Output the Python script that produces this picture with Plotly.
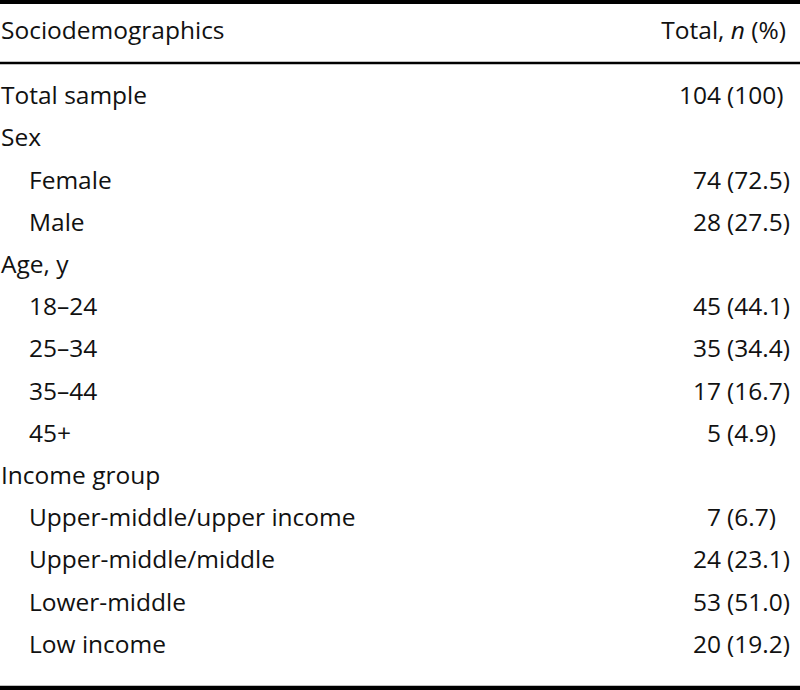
import plotly.graph_objects as go

labels = ["Total sample", "Sex", "Female", "Male", "Age, y", "18–24", "25–34",
          "35–44", "45+", "Income group", "Upper-middle/upper income",
          "Upper-middle/middle", "Lower-middle", "Low income"]
indent = [0, 0, 1, 1, 0, 1, 1, 1, 1, 0, 1, 1, 1, 1]
counts = [104, None, 74, 28, None, 45, 35, 17, 5, None, 7, 24, 53, 20]
percents = ["100", None, "72.5", "27.5", None, "44.1", "34.4", "16.7", "4.9",
            None, "6.7", "23.1", "51.0", "19.2"]
header_left = "Sociodemographics"
header_right = "Total, <i>n</i> (%)"

FONT = dict(family="Open Sans", size=24.5, color="#111111")
ROW0, ROWH = 98, 42.2
HEADER_Y = 33
X_LEFT, X_INDENT = 1, 29
X_NUM, X_PAREN = 721, 727
X_RIGHT = 786

ys = [ROW0 + ROWH * i for i in range(len(labels))]
xs = [X_INDENT if ind else X_LEFT for ind in indent]

fig = go.Figure()
fig.add_trace(go.Scatter(x=xs, y=ys, text=labels, mode="text",
                         textposition="middle right", textfont=FONT,
                         hoverinfo="skip"))
num_y = [y for y, c in zip(ys, counts) if c is not None]
fig.add_trace(go.Scatter(x=[X_NUM] * len(num_y), y=num_y,
                         text=[str(c) for c in counts if c is not None],
                         mode="text", textposition="middle left", textfont=FONT,
                         hoverinfo="skip"))
fig.add_trace(go.Scatter(x=[X_PAREN] * len(num_y), y=num_y,
                         text=["(" + p + ")" for p in percents if p is not None],
                         mode="text", textposition="middle right", textfont=FONT,
                         hoverinfo="skip"))
fig.add_trace(go.Scatter(x=[X_LEFT], y=[HEADER_Y], text=[header_left], mode="text",
                         textposition="middle right", textfont=FONT, hoverinfo="skip"))
fig.add_trace(go.Scatter(x=[X_RIGHT], y=[HEADER_Y], text=[header_right], mode="text",
                         textposition="middle left", textfont=FONT, hoverinfo="skip"))

for y0, w in [(2, 4), (63, 2.5), (688, 4.5)]:
    fig.add_shape(type="line", xref="paper", yref="y", x0=0, x1=1, y0=y0, y1=y0,
                  line=dict(color="black", width=w))

fig.update_layout(
    width=800, height=690, margin=dict(l=0, r=0, t=0, b=0),
    paper_bgcolor="white", plot_bgcolor="white", showlegend=False,
    xaxis=dict(range=[0, 800], visible=False, fixedrange=True),
    yaxis=dict(range=[690, 0], visible=False, fixedrange=True),
)
fig.write_html("out.html", config={"displayModeBar": False},
               post_script="document.body.style.margin='0';document.body.style.overflow='hidden';")
